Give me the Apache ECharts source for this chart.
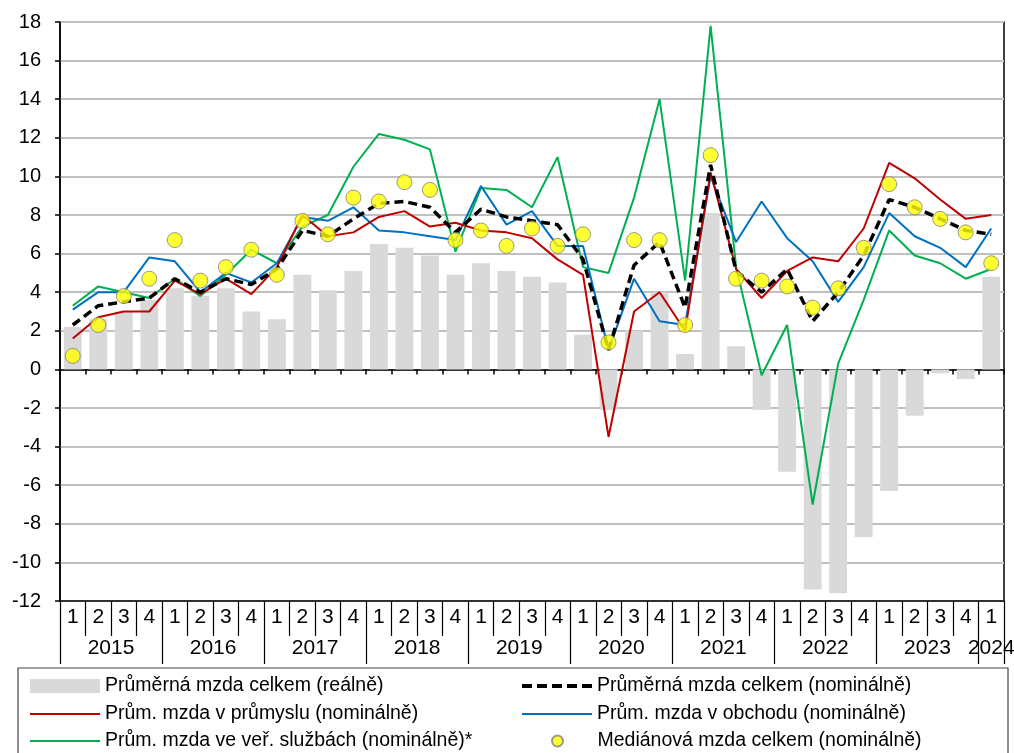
<!DOCTYPE html>
<html>
<head>
<meta charset="utf-8">
<script src="https://cdn.jsdelivr.net/npm/echarts@6/dist/echarts.min.js"></script>
<style>
html,body{margin:0;padding:0;background:#fff;}
#chart{width:1014px;height:753px;}
</style>
</head>
<body>
<div id="chart"></div>
<script>
// ---- data (2015Q1 .. 2024Q1) ----
const quarters = ['1','2','3','4','1','2','3','4','1','2','3','4','1','2','3','4','1','2','3','4','1','2','3','4','1','2','3','4','1','2','3','4','1','2','3','4','1'];
const years = ['2015','2015','2015','2015','2016','2016','2016','2016','2017','2017','2017','2017','2018','2018','2018','2018','2019','2019','2019','2019','2020','2020','2020','2020','2021','2021','2021','2021','2022','2022','2022','2022','2023','2023','2023','2023','2024'];
const yTicks = {min: -12, max: 18, interval: 2};

const realAvg = [2.2,2.6,3.0,3.6,4.2,3.8,4.2,3.0,2.6,4.9,4.1,5.1,6.5,6.3,5.9,4.9,5.5,5.1,4.8,4.5,1.8,-2.1,2.0,4.0,0.8,8.1,1.2,-2.1,-5.3,-11.4,-11.6,-8.7,-6.3,-2.4,-0.2,-0.5,4.8];
const nominalAvg = [2.3,3.3,3.5,3.7,4.7,4.0,4.7,4.4,5.2,7.2,6.9,7.8,8.6,8.7,8.4,7.1,8.3,7.9,7.7,7.5,5.7,1.0,5.4,6.6,3.2,10.6,5.1,4.0,5.2,2.5,4.0,5.9,8.8,8.4,7.8,7.2,7.0];
const industry = [1.6,2.7,3.0,3.0,4.6,3.9,4.7,3.9,5.3,8.0,6.9,7.1,7.9,8.2,7.4,7.6,7.2,7.1,6.8,5.7,4.9,-3.5,3.0,4.0,2.0,10.2,5.2,3.7,5.1,5.8,5.6,7.3,10.7,9.9,8.8,7.8,8.0];
const trade = [3.1,4.0,4.0,5.8,5.6,4.0,5.0,4.5,5.5,7.9,7.7,8.4,7.2,7.1,6.9,6.7,9.5,7.5,8.2,6.4,6.4,1.0,4.7,2.5,2.3,10.0,6.6,8.7,6.8,5.6,3.5,5.3,8.1,6.9,6.3,5.3,7.3];
const publicServices = [3.3,4.3,4.0,3.7,4.7,3.8,4.9,6.2,5.5,7.4,8.0,10.5,12.2,11.9,11.4,6.1,9.4,9.3,8.4,11.0,5.3,5.0,8.9,14.0,4.6,17.8,5.3,-0.3,2.3,-7.0,0.3,3.6,7.2,5.9,5.5,4.7,5.2];
const median = [0.7,2.3,3.8,4.7,6.7,4.6,5.3,6.2,4.9,7.7,7.0,8.9,8.7,9.7,9.3,6.7,7.2,6.4,7.3,6.4,7.0,1.4,6.7,6.7,2.3,11.1,4.7,4.6,4.3,3.2,4.2,6.3,9.6,8.4,7.8,7.1,5.5];

const names = {
  real: 'Průměrná mzda celkem (reálně)',
  nominal: 'Průměrná mzda celkem (nominálně)',
  industry: 'Prům. mzda v průmyslu (nominálně)',
  trade: 'Prům. mzda v obchodu (nominálně)',
  pub: 'Prům. mzda ve veř. službách (nominálně)*',
  median: 'Mediánová mzda celkem (nominálně)'
};

const FONT = 'Liberation Sans, Arial, sans-serif';
const legendText = {fontFamily: FONT, fontSize: 19.5, color: '#000', lineHeight: 22};
const ICON_LINE = 'path://M0,0L70,0L70,2L0,2Z';
const ICON_DASH = 'path://M0,0h10v4h-10zM15,0h10v4h-10zM30,0h10v4h-10zM45,0h10v4h-10zM60,0h10v4h-10z';

function oneLegend(name, left, top, icon, ih) {
  const item = {name: name};
  if (icon) item.icon = icon;
  return {
    left: left, top: top, orient: 'horizontal',
    itemWidth: 70, itemHeight: ih || 14, padding: 0,
    textStyle: legendText, data: [item]
  };
}

const chart = echarts.init(document.getElementById('chart'), null, {renderer: 'canvas'});
const option = {
  animation: false,
  backgroundColor: '#ffffff',
  grid: {left: 60, right: 10, top: 22, bottom: 152, show: true, borderColor: '#000', borderWidth: 1.5,
         containLabel: false, outerBoundsMode: 'none'},
  graphic: [{
    type: 'rect', shape: {x: 18, y: 668, width: 990, height: 100},
    style: {fill: 'none', stroke: '#444', lineWidth: 1.2}, z: -1
  }],
  legend: [
    oneLegend(names.real, 30, 675, 'rect'),
    oneLegend(names.industry, 30, 703, ICON_LINE),
    oneLegend(names.pub, 30, 730, ICON_LINE),
    oneLegend(names.nominal, 522, 675, ICON_DASH),
    oneLegend(names.trade, 522, 703, ICON_LINE),
    oneLegend(names.median, 551, 730, 'circle', 11)
  ],
  xAxis: [{
    type: 'category', data: quarters, position: 'bottom', boundaryGap: true,
    axisLine: {onZero: true, lineStyle: {color: '#000', width: 1.5}},
    axisTick: {show: true, length: 5, interval: 0, lineStyle: {color: '#000', width: 1.5}},
    axisLabel: {show: false},
    splitLine: {show: false}
  }, {
    type: 'category', data: quarters, position: 'bottom', boundaryGap: true, offset: 0,
    axisLine: {onZero: false, show: true, lineStyle: {color: '#000', width: 1.5}},
    axisTick: {show: true, length: 35, interval: 0, lineStyle: {color: '#000', width: 1.2}},
    axisLabel: {show: true, interval: 0, margin: 6, fontFamily: FONT, fontSize: 21, color: '#000'},
    splitLine: {show: false}
  }, {
    type: 'category', data: years, position: 'bottom', boundaryGap: true, offset: 35,
    axisLine: {onZero: false, show: false},
    axisTick: {show: true, length: 28, interval: function (i) { return i % 4 === 0; }, lineStyle: {color: '#000', width: 1.2}},
    axisLabel: {
      show: true, margin: 2, fontFamily: FONT, fontSize: 21, color: '#000',
      interval: function (i) { return i % 4 === 1 || i === years.length - 1; },
      formatter: function (v, i) { return i === years.length - 1 ? '{e|' + v + '}' : '{m|' + v + '}'; },
      rich: {
        m: {fontFamily: FONT, fontSize: 21, color: '#000', padding: [0, 0, 0, 25.5]},
        e: {fontFamily: FONT, fontSize: 21, color: '#000'}
      }
    },
    splitLine: {show: false}
  }],
  yAxis: {
    type: 'value', min: yTicks.min, max: yTicks.max, interval: yTicks.interval,
    axisLine: {show: true, lineStyle: {color: '#000', width: 1.5}},
    axisTick: {show: true, length: 5, lineStyle: {color: '#000', width: 1.5}},
    axisLabel: {margin: 19, fontFamily: FONT, fontSize: 20, color: '#000'},
    splitLine: {show: true, lineStyle: {color: '#C0C0C0', width: 2}}
  },
  series: [{
    name: names.real, type: 'bar', data: realAvg, barWidth: '70%',
    itemStyle: {color: '#D9D9D9'}, z: 1
  }, {
    name: names.pub, type: 'line', data: publicServices, symbol: 'none',
    lineStyle: {color: '#00B050', width: 2}, itemStyle: {color: '#00B050'}, z: 2
  }, {
    name: names.trade, type: 'line', data: trade, symbol: 'none',
    lineStyle: {color: '#0070C0', width: 2}, itemStyle: {color: '#0070C0'}, z: 3
  }, {
    name: names.industry, type: 'line', data: industry, symbol: 'none',
    lineStyle: {color: '#C00000', width: 2}, itemStyle: {color: '#C00000'}, z: 4
  }, {
    name: names.nominal, type: 'line', data: nominalAvg, symbol: 'none',
    lineStyle: {color: '#000', width: 3.5, type: [9, 5]}, itemStyle: {color: '#000'}, z: 5
  }, {
    name: names.median, type: 'scatter', data: median, symbol: 'circle', symbolSize: 15,
    itemStyle: {color: '#FFFF00', borderColor: '#808080', borderWidth: 1}, z: 6
  }]
};
chart.setOption(option);
</script>
</body>
</html>
